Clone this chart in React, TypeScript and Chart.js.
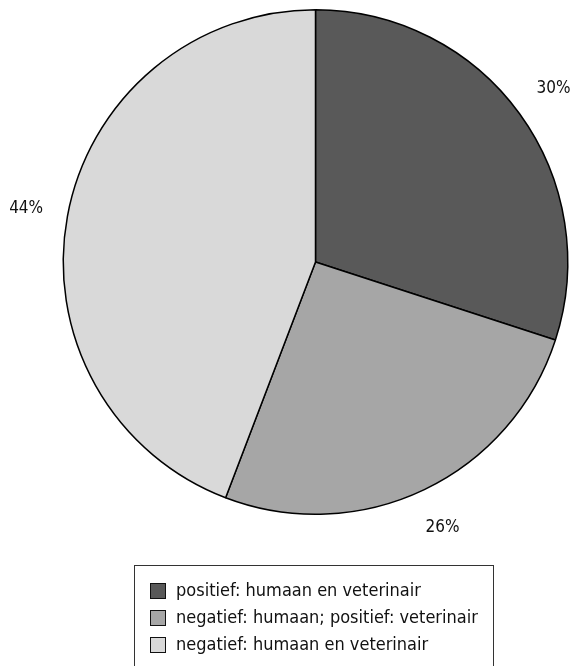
import React, { useEffect, useRef } from 'react';
import { Chart, registerables } from 'chart.js';

Chart.register(...registerables);

const categories = [
  'positief: humaan en veterinair',
  'negatief: humaan; positief: veterinair',
  'negatief: humaan en veterinair',
];
const shares = [30, 25.8, 44.2];
const sliceColors = ['#595959', '#a6a6a6', '#d9d9d9'];

const FONT = '"Liberation Sans Narrow", "DejaVu Sans Condensed", "Arial Narrow", sans-serif';

const outsideLabels = {
  id: 'outsideLabels',
  afterDatasetsDraw(chart: any) {
    const ctx = chart.ctx;
    const meta = chart.getDatasetMeta(0);
    const total = shares.reduce((a, b) => a + b, 0);
    ctx.save();
    ctx.font = `17px ${FONT}`;
    ctx.fillStyle = '#111';
    ctx.textAlign = 'center';
    ctx.textBaseline = 'middle';
    meta.data.forEach((arc: any, i: number) => {
      const { x, y, startAngle, endAngle, outerRadius } = arc.getProps(
        ['x', 'y', 'startAngle', 'endAngle', 'outerRadius'],
        true
      );
      const mid = (startAngle + endAngle) / 2;
      const r = outerRadius + 42;
      ctx.fillText(
        Math.round((shares[i] / total) * 100) + '%',
        x + Math.cos(mid) * r,
        y + Math.sin(mid) * r
      );
    });
    ctx.restore();
  },
};

const boxedLegend = {
  id: 'boxedLegend',
  afterDraw(chart: any) {
    const ctx = chart.ctx;
    ctx.save();
    ctx.strokeStyle = '#333';
    ctx.lineWidth = 1;
    ctx.strokeRect(134.5, 565.5, 359, 130);
    ctx.font = `18px ${FONT}`;
    ctx.textAlign = 'left';
    ctx.textBaseline = 'middle';
    categories.forEach((label, i) => {
      const top = 583 + i * 27;
      ctx.fillStyle = sliceColors[i];
      ctx.fillRect(150, top, 16, 16);
      ctx.strokeStyle = '#111';
      ctx.strokeRect(150.5, top + 0.5, 15, 15);
      ctx.fillStyle = '#111';
      ctx.fillText(label, 176, top + 8.5);
    });
    ctx.restore();
  },
};

export default function App() {
  const ref = useRef<HTMLCanvasElement | null>(null);
  useEffect(() => {
    if (!ref.current) return;
    const chart = new Chart(ref.current, {
      type: 'pie',
      data: {
        labels: categories,
        datasets: [
          {
            data: shares,
            backgroundColor: sliceColors,
            borderColor: '#000',
            borderWidth: 1.5,
          },
        ],
      },
      options: {
        responsive: false,
        animation: false,
        devicePixelRatio: 1,
        layout: { padding: { left: 62, top: 9, right: 6, bottom: 151 } },
        plugins: {
          legend: { display: false },
          tooltip: { enabled: false },
        },
      },
      plugins: [outsideLabels, boxedLegend],
    });
    return () => chart.destroy();
  }, []);
  return (
    <div style={{ position: 'fixed', left: 0, top: 0, width: 575, height: 666, background: '#fff' }}>
      <canvas ref={ref} width={575} height={666} />
    </div>
  );
}
